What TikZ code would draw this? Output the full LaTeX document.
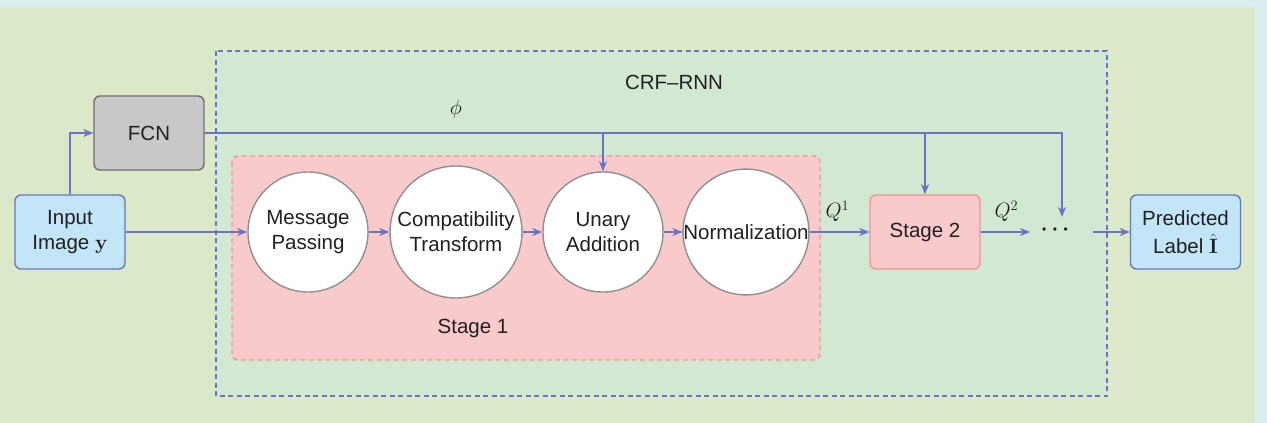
\documentclass[tikz,border=0pt]{standalone}
\usepackage{amsmath,amssymb,bm}
\usepackage[no-math]{fontspec}
\setmainfont{Liberation Sans}
\usepackage{tikz}
\usetikzlibrary{arrows.meta,positioning}

\definecolor{bgblue}{HTML}{DAEDF1}
\definecolor{bggreen}{HTML}{DCE9C9}
\definecolor{crfgreen}{HTML}{D2E8D3}
\definecolor{stagepink}{HTML}{F8CACC}
\definecolor{pinkline}{HTML}{F09497}
\definecolor{flow}{HTML}{6A74C2}
\definecolor{inblue}{HTML}{C2E5F7}
\definecolor{fcngray}{HTML}{C8C8CA}
\definecolor{fcnline}{HTML}{6F6F6F}
\definecolor{ringgray}{HTML}{909090}
\definecolor{ink}{HTML}{231F20}

\begin{document}
\begin{tikzpicture}[x=1pt, y=-1pt,
		txt/.style    = {text=ink, font=\fontsize{20.5}{25}\selectfont, align=center},
		basic/.style  = {txt, rectangle, rounded corners=6pt, line width=1.4pt, minimum width=110pt, minimum height=74pt, inner sep=0pt},
		io/.style     = {basic, draw=flow, fill=inblue},
		net/.style    = {basic, draw=fcnline, fill=fcngray},
		stage/.style  = {basic, draw=pinkline, fill=stagepink},
		op/.style     = {txt, circle, draw=ringgray, fill=white, line width=1.4pt, inner sep=0pt},
		lbl/.style    = {txt},
		flowline/.style = {draw=flow, line width=1.4pt},
		>={Stealth[length=10pt, width=8pt, inset=3pt]}]

		% background panels
		\fill[bgblue] (0,0) rectangle (1267,423);
		\fill[bggreen] (0,7) rectangle (1255,423);
		\useasboundingbox (0,0) rectangle (1267,423);

		\draw[flow, fill=crfgreen, line width=1.4pt, dash pattern=on 5pt off 3.5pt] (216,51) rectangle (1107,396);
		\draw[pinkline, fill=stagepink, line width=1.4pt, dash pattern=on 5pt off 3.5pt, rounded corners=6pt] (232,156) rectangle (820,360);

		\node[lbl] (crf) at (674,82) {CRF--RNN};
		\node[lbl] (s1) at (473,328) {Stage 1};

		% blocks
		\node[io] (inp) at (70,232) {Input\\Image $\bm{\mathrm{y}}$};
		\node[net] (fcn) at (149,133) {FCN};
		\node[stage] (st2) at (925,232) {Stage 2};
		\node[io] (pred) at (1185.5,232) {Predicted\\[3pt]Label $\hat{\bm{\mathrm{I}}}$};

		% mean-field steps
		\node[op, minimum size=120pt] (m1) at (308,232) {Message\\Passing};
		\node[op, minimum size=132pt] (m2) at (456,232) {Compatibility\\Transform};
		\node[op, minimum size=120pt] (m3) at (603,232) {Unary\\Addition};
		\node[op, minimum size=122pt] (m4) at (746,232) {Normalization};

		\node[lbl, font=\fontsize{12}{12}\selectfont] (dots) at (1055,231) {\textbullet\hspace{6.5pt}\textbullet\hspace{6.5pt}\textbullet};
		\coordinate (q2end) at (1030,232);
		\coordinate (predin) at (1093,232);
		\coordinate (dotsin) at (1062,217);

		% connectors
		\draw[flowline, ->] (inp.north) |- (fcn.west);
		\draw[flowline, ->] (inp.east) -- (m1.west);

		\foreach \a/\b in {m1/m2, m2/m3, m3/m4}
		\draw[flowline, ->] (\a.east) -- (\b.west);

		\draw[flowline, ->] (m4.east) -- node[lbl, above=6pt, xshift=-2pt] (q1) {$Q^1$} (st2.west);
		\draw[flowline, ->] (st2.east) -- node[lbl, above=6pt, xshift=1pt] (q2) {$Q^2$} (q2end);
		\draw[flowline, ->] (predin) -- (pred.west);

		\draw[flowline, ->] (fcn.east) -| (dotsin);
		\draw[flowline, ->] (fcn.east -| m3.north) -- (m3.north);
		\draw[flowline, ->] (fcn.east -| st2.north) -- (st2.north);
		\node[lbl] (phi) at (456,109) {$\phi$};

	\end{tikzpicture}
\end{document}
